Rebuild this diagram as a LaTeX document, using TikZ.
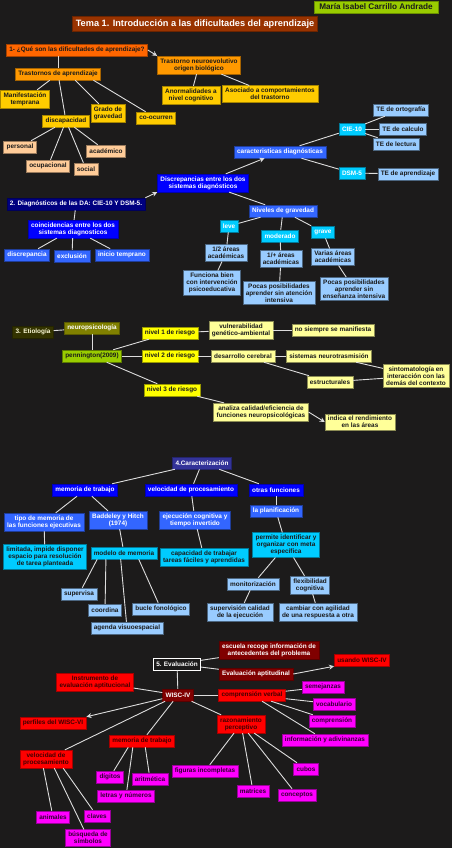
\documentclass[tikz,border=0pt]{standalone}
\usepackage{fontspec}
\setmainfont{Liberation Sans}
\usepackage{tikz}
\usetikzlibrary{arrows.meta, calc}

\definecolor{bgdark}{HTML}{1C1B1B}
\definecolor{linkgray}{HTML}{DDDDDD}
\definecolor{textdark}{HTML}{1A1A1A}
\definecolor{titlebrown}{HTML}{993300}
\definecolor{authorgreen}{HTML}{99CC00}
\definecolor{qorange}{HTML}{FF6600}
\definecolor{orangeB}{HTML}{FF9900}
\definecolor{yellowC}{HTML}{FFCC00}
\definecolor{peachD}{HTML}{FFCC99}
\definecolor{navyE}{HTML}{000080}
\definecolor{blueF}{HTML}{0000FF}
\definecolor{royalG}{HTML}{3366FF}
\definecolor{cyanH}{HTML}{00CCFF}
\definecolor{paleI}{HTML}{99CCFF}
\definecolor{oliveDark}{HTML}{333300}
\definecolor{oliveJ}{HTML}{808000}
\definecolor{yellowK}{HTML}{FFFF00}
\definecolor{creamL}{HTML}{FFFF99}
\definecolor{slateM}{HTML}{333399}
\definecolor{darkredN}{HTML}{800000}
\definecolor{redO}{HTML}{FF0000}
\definecolor{magentaP}{HTML}{FF00FF}

\begin{document}
\begin{tikzpicture}[x=1pt, y=-1pt,
    box/.style={draw, line width=0.5pt, align=center, inner xsep=3pt, inner ysep=2.5pt,
      minimum height=12pt, font=\fontsize{6.4}{6.8}\selectfont\bfseries},
    link/.style={draw=linkgray, line width=0.9pt},
    arrowlink/.style={link, -{Stealth[length=5pt, width=5pt]}},
    titlebox/.style={box, fill=titlebrown, draw=titlebrown!70!black, text=white,
      minimum height=15pt, inner xsep=3.5pt, font=\fontsize{9.2}{10}\selectfont\bfseries},
    authorbox/.style={box, fill=authorgreen, draw=authorgreen!70!black, text=textdark,
      inner xsep=5.5pt, font=\fontsize{8.2}{9}\selectfont\bfseries},
    qbox/.style={box, fill=qorange, draw=qorange!65!black, text=textdark},
    orangebox/.style={box, fill=orangeB, draw=orangeB!65!black, text=textdark},
    yellowbox/.style={box, fill=yellowC, draw=yellowC!65!black, text=textdark},
    peachbox/.style={box, fill=peachD, draw=peachD!60!black, text=textdark},
    navybox/.style={box, fill=navyE, draw=navyE!70!black, text=white},
    bluebox/.style={box, fill=blueF, draw=blueF!70!black, text=white},
    royalbox/.style={box, fill=royalG, draw=royalG!60!black, text=white},
    cyanbox/.style={box, fill=cyanH, draw=cyanH!60!black, text=white},
    cyandark/.style={box, fill=cyanH, draw=cyanH!60!black, text=textdark},
    palebox/.style={box, fill=paleI, draw=paleI!50!black, text=textdark},
    etiobox/.style={box, fill=oliveDark, draw=oliveDark!70!black, text=white!85!yellow},
    olivebox/.style={box, fill=oliveJ, draw=oliveJ!70!black, text=white},
    limebox/.style={box, fill=authorgreen, draw=authorgreen!60!black, text=textdark},
    riskbox/.style={box, fill=yellowK, draw=yellowK!60!black, text=textdark},
    creambox/.style={box, fill=creamL, draw=creamL!55!black, text=textdark},
    slatebox/.style={box, fill=slateM, draw=slateM!70!black, text=white},
    evalbox/.style={box, fill=bgdark, draw=white, line width=0.8pt, text=white},
    darkredbox/.style={box, fill=darkredN, draw=darkredN!70!black, text=white},
    redbox/.style={box, fill=redO, draw=redO!65!black, text=darkredN!50!black},
    magbox/.style={box, fill=magentaP, draw=magentaP!60!black, text=magentaP!20!black}]

  % Background
  \fill[bgdark] (0,0) rectangle (452,848);
  \useasboundingbox (0,0) rectangle (452,848);

  % Header
  \node[titlebox] (tema) at (195,24) {Tema 1. Introducción a las dificultades del aprendizaje};
  \node[authorbox] (autora) at (376,7) {María Isabel Carrillo Andrade};

  % 1. Que son las DA
  \node[qbox] (q1) at (77,50) {1- ¿Qué son las dificultades de aprendizaje?};
  \node[orangebox] (neuro) at (199,65) {Trastorno neuroevolutivo\\origen biológico};
  \node[orangebox] (trast) at (58,74) {Trastornos de aprendizaje};
  \node[yellowbox] (manif) at (25,99) {Manifestación\\temprana};
  \node[yellowbox] (grado) at (108,113) {Grado de\\gravedad};
  \node[yellowbox] (coocur) at (156,118) {co-ocurren};
  \node[yellowbox] (discap) at (66,121) {discapacidad};
  \node[yellowbox] (anorm) at (191,95) {Anormalidades a\\nivel cognitivo};
  \node[yellowbox] (asoc) at (270,94) {Asociado a comportamientos\\del trastorno};
  \node[peachbox] (personal) at (20,147) {personal};
  \node[peachbox] (academ) at (106,151) {académico};
  \node[peachbox] (ocup) at (48,166) {ocupacional};
  \node[peachbox] (social) at (86,169) {social};

  \draw[arrowlink] (q1.east) -- (neuro.north west);
  \draw[link] (q1.south -| trast.north) -- (trast.north);
  \draw[link] (trast) -- (manif);
  \draw[link] (trast.-20) -- (grado);
  \draw[link] (trast.-10) -- (coocur);
  \draw[link] (trast) -- (discap);
  \foreach \t in {anorm, asoc} \draw[link] (neuro) -- (\t);
  \foreach \t in {personal, ocup, social, academ} \draw[link] (discap) -- (\t);

  % 2. Diagnosticos
  \node[navybox] (diag) at (76,204) {2. Diagnósticos de las DA: CIE-10 Y DSM-5.};
  \node[bluebox] (discr) at (203,183) {Discrepancias entre los dos\\sistemas diagnósticos};
  \node[bluebox] (coinc) at (73,229) {coincidencias entre los dos\\sistemas diagnosticos};
  \node[royalbox] (discrep) at (27,255) {discrepancia};
  \node[royalbox] (exclu) at (72,256) {exclusión};
  \node[royalbox] (inicio) at (122,255) {inicio temprano};
  \node[royalbox] (caract) at (280,152) {caracteristicas diagnósticas};
  \node[cyanbox] (cie) at (352,129) {CIE-10};
  \node[cyanbox] (dsm) at (352,173) {DSM-5};
  \node[palebox] (teort) at (401,110) {TE de ortografía};
  \node[palebox] (tecal) at (403,129) {TE de calculo};
  \node[palebox] (telec) at (396,144) {TE de lectura};
  \node[palebox] (teapr) at (408,174) {TE de aprendizaje};
  \node[royalbox] (niveles) at (283,211) {Niveles de gravedad};
  \node[cyanbox] (leve) at (229,226) {leve};
  \node[cyanbox] (moder) at (280,236) {moderado};
  \node[cyanbox] (grave) at (323,232) {grave};
  \node[palebox] (medias) at (226,253) {1/2 áreas\\académicas};
  \node[palebox] (unamas) at (281,259) {1/+ áreas\\académicas};
  \node[palebox] (varias) at (333,257) {Varias áreas\\académicas};
  \node[palebox] (funciona) at (212,283) {Funciona bien\\con intervención\\psicoeducativa};
  \node[palebox] (pocas1) at (279,293) {Pocas posibilidades\\aprender sin atención\\intensiva};
  \node[palebox] (pocas2) at (354,289) {Pocas posibilidades\\aprender sin\\enseñanza intensiva};

  \draw[arrowlink] (diag.north east) -- (discr.south west);
  \draw[link] (diag) -- (coinc);
  \foreach \t in {discrep, exclu, inicio} \draw[link] (coinc) -- (\t);
  \draw[arrowlink] (discr) -- (caract);
  \draw[link] (discr) -- (niveles);
  \foreach \t in {cie, dsm} \draw[link] (caract) -- (\t);
  \foreach \t in {teort, tecal, telec} \draw[link] (cie) -- (\t);
  \draw[link] (dsm) -- (teapr);
  \foreach \t in {leve, moder, grave} \draw[link] (niveles) -- (\t);
  \draw[link] (leve) -- (medias);
  \draw[link] (medias) -- (funciona);
  \draw[link] (moder) -- (unamas);
  \draw[link] (unamas) -- (pocas1);
  \draw[link] (grave) -- (varias);
  \draw[link] (varias) -- (pocas2);

  % 3. Etiologia
  \node[etiobox] (etio) at (33,332) {3. Etiología};
  \node[olivebox] (neurops) at (92,328) {neuropsicología};
  \node[limebox] (penn) at (92,356) {pennington(2009)};
  \node[riskbox] (niv1) at (170,333) {nivel 1 de riesgo};
  \node[riskbox] (niv2) at (170,356) {nivel 2 de riesgo};
  \node[riskbox] (niv3) at (172,390) {nivel 3 de riesgo};
  \node[creambox] (vulner) at (241,330) {vulnerabilidad\\genético-ambiental};
  \node[creambox] (nosiempre) at (333,330) {no siempre se manifiesta};
  \node[creambox] (desarr) at (243,356) {desarrollo cerebral};
  \node[creambox] (sistemas) at (329,356) {sistemas neurotrasmisión};
  \node[creambox] (estruct) at (330,382) {estructurales};
  \node[creambox] (sintom) at (416,376) {sintomatología en\\interacción con las\\demás del contexto};
  \node[creambox] (analiza) at (261,412) {analiza calidad/eficiencia de\\funciones neuropsicológicas};
  \node[creambox] (indica) at (360,422) {indica el rendimiento\\en las áreas};

  \draw[link] (etio) -- (neurops);
  \draw[link] (neurops) -- (penn);
  \foreach \t in {niv1, niv2, niv3} \draw[link] (penn) -- (\t);
  \draw[link] (niv1) -- (vulner);
  \draw[link] (vulner) -- (nosiempre);
  \draw[link] (niv2) -- (desarr);
  \draw[link] (desarr) -- (sistemas);
  \draw[link] (desarr) -- (estruct);
  \draw[link] (sistemas) -- (sintom);
  \draw[link] (estruct) -- (sintom);
  \draw[link] (niv3) -- (analiza);
  \draw[arrowlink] (analiza.east) -- (indica.west);

  % 4. Caracterizacion
  \node[slatebox] (caracz) at (202,463) {4.Caracterización};
  \node[bluebox] (memtr) at (85,490) {memoria de trabajo};
  \node[bluebox] (veloc) at (191,490) {velocidad de procesamiento};
  \node[bluebox] (otras) at (276,490) {otras funciones};
  \node[royalbox] (tipo) at (44,522) {tipo de memoria de\\las funciones ejecutivas};
  \node[royalbox] (badd) at (118,520) {Baddeley y Hitch\\(1974)};
  \node[royalbox] (ejec) at (195,520) {ejecución cognitiva y\\tiempo invertido};
  \node[royalbox] (planif) at (276,511) {la planificación};
  \node[cyandark] (limit) at (45,557) {limitada, impide disponer\\espacio para resolución\\de tarea planteada};
  \node[cyandark] (modelo) at (124,553) {modelo de memoria};
  \node[cyandark] (capac) at (204,557) {capacidad de trabajar\\tareas fáciles y aprendidas};
  \node[cyandark] (permite) at (286,545) {permite identificar y\\organizar con meta\\específica};
  \node[palebox] (supervisa) at (79,594) {supervisa};
  \node[palebox] (coordina) at (105,610) {coordina};
  \node[palebox] (agenda) at (127,628) {agenda visuoespacial};
  \node[palebox] (bucle) at (161,609) {bucle fonológico};
  \node[palebox] (monitor) at (253,584) {monitorización};
  \node[palebox] (flexib) at (310,585) {flexibilidad\\cognitiva};
  \node[palebox] (supcal) at (240,612) {supervisión calidad\\de la ejecución};
  \node[palebox] (cambiar) at (318,612) {cambiar con agilidad\\de una respuesta a otra};

  \foreach \t in {memtr, veloc, otras} \draw[link] (caracz) -- (\t);
  \foreach \t in {tipo, badd} \draw[link] (memtr) -- (\t);
  \draw[link] (tipo) -- (limit);
  \draw[link] (badd) -- (modelo);
  \foreach \f/\t in {0.1/supervisa, 0.23/coordina, 0.45/agenda, 0.72/bucle}
    \draw[link] ($(modelo.south west)!\f!(modelo.south east)$) -- (\t);
  \draw[link] (veloc) -- (ejec);
  \draw[link] (ejec) -- (capac);
  \draw[link] (otras) -- (planif);
  \draw[link] (planif) -- (permite);
  \foreach \t in {monitor, flexib} \draw[link] (permite) -- (\t);
  \draw[link] (monitor) -- (supcal);
  \draw[link] (flexib) -- (cambiar);

  % 5. Evaluacion
  \node[evalbox] (evalu) at (177,664) {5. Evaluación};
  \node[darkredbox] (escuela) at (269,650) {escuela recoge información de\\antecedentes del problema};
  \node[darkredbox] (aptit) at (256,674) {Evaluación aptitudinal};
  \node[redbox] (usando) at (362,660) {usando WISC-IV};
  \node[darkredbox] (wisc) at (178,695) {WISC-IV};
  \node[redbox] (instr) at (95,682) {Instrumento de\\evaluación aptitucional};
  \node[redbox] (compv) at (252,695) {comprensión verbal};
  \node[magbox] (semej) at (323,687) {semejanzas};
  \node[magbox] (vocab) at (334,704) {vocabulario};
  \node[magbox] (compr) at (332,721) {comprensión};
  \node[magbox] (info) at (325,740) {información y adivinanzas};
  \node[redbox] (razon) at (241,724) {razonamiento\\perceptivo};
  \node[magbox] (cubos) at (306,769) {cubos};
  \node[magbox] (conceptos) at (297,795) {conceptos};
  \node[magbox] (matrices) at (253,791) {matrices};
  \node[magbox] (figuras) at (205,771) {figuras incompletas};
  \node[redbox] (perfiles) at (53,723) {perfiles del WISC-VI};
  \node[redbox] (memrd) at (142,741) {memoria de trabajo};
  \node[redbox] (velrd) at (46,759) {velocidad de\\procesamiento};
  \node[magbox] (digitos) at (110,777) {dígitos};
  \node[magbox] (aritm) at (150,779) {aritmética};
  \node[magbox] (letras) at (126,796) {letras y números};
  \node[magbox] (animales) at (53,817) {animales};
  \node[magbox] (claves) at (97,816) {claves};
  \node[magbox] (busq) at (88,838) {búsqueda de\\símbolos};

  \foreach \t in {escuela, aptit, wisc} \draw[link] (evalu) -- (\t);
  \draw[arrowlink] (aptit.east) -- (usando.south west);
  \draw[arrowlink] (wisc) -- (perfiles.north east);
  \foreach \t in {instr, compv, razon, memrd, velrd} \draw[link] (wisc) -- (\t);
  \foreach \t in {semej, vocab, compr, info} \draw[link] (compv) -- (\t);
  \foreach \t in {figuras, matrices, conceptos, cubos} \draw[link] (razon) -- (\t);
  \foreach \f/\t in {0.29/digitos, 0.36/letras, 0.55/aritm}
    \draw[link] ($(memrd.south west)!\f!(memrd.south east)$) -- (\t);
  \foreach \f/\t in {0.45/animales, 0.66/busq, 0.83/claves}
    \draw[link] ($(velrd.south west)!\f!(velrd.south east)$) -- (\t);

\end{tikzpicture}
\end{document}
